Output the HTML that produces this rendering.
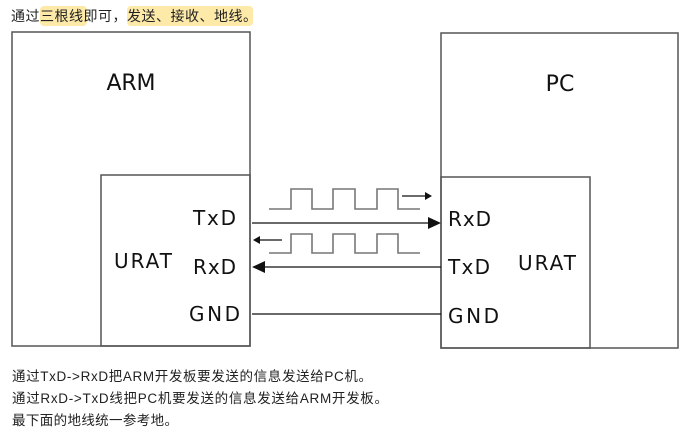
<!DOCTYPE html>
<html><head><meta charset="utf-8"><style>
html,body{margin:0;padding:0;background:#fff;width:693px;height:435px;overflow:hidden}
svg{display:block}
.cj{font-family:"Liberation Sans","Microsoft YaHei","Noto Sans CJK SC",sans-serif}
.lb{font-family:"DejaVu Sans","Liberation Sans",sans-serif;fill:#111}
</style></head><body>
<svg width="693" height="435" viewBox="0 0 693 435" xmlns="http://www.w3.org/2000/svg">
<rect x="40" y="6" width="47" height="20" rx="4" fill="#fde9a8"/>
<rect x="127" y="6" width="126" height="20" rx="4" fill="#fde9a8"/>
<text class="cj" x="11" y="21" font-size="14" fill="#222" textLength="246">通过三根线即可，发送、接收、地线。</text>

<g fill="none" stroke="#555" stroke-width="1.5">
<rect x="12" y="32" width="238" height="314"/>
<rect x="101" y="175" width="149" height="171"/>
<rect x="441" y="33" width="237" height="315"/>
<rect x="441" y="177" width="149" height="171"/>
</g>
<g class="lb" font-size="22">
<text x="131" y="90" text-anchor="middle" textLength="49">ARM</text>
<text x="560" y="91" text-anchor="middle">PC</text>
</g>
<g class="lb" font-size="20">
<text x="236" y="225" text-anchor="end" textLength="43">TxD</text>
<text x="143" y="268" text-anchor="middle" textLength="58">URAT</text>
<text x="236" y="274" text-anchor="end" textLength="43">RxD</text>
<text x="240" y="321" text-anchor="end" textLength="51">GND</text>
<text x="448" y="226" textLength="43">RxD</text>
<text x="448" y="274" textLength="42">TxD</text>
<text x="547" y="270" text-anchor="middle" textLength="58">URAT</text>
<text x="448" y="323" textLength="51">GND</text>
</g>
<g fill="none" stroke="#777" stroke-width="1.6">
<polyline points="269,209 291,209 291,189 312,189 312,209 333,209 333,189 355,189 355,209 377,209 377,189 398,189 398,209 420,209"/>
<polyline points="269,253 291,253 291,234 312,234 312,253 333,253 333,234 355,234 355,253 377,253 377,234 398,234 398,253 420,253"/>
</g>
<g stroke="#111" stroke-width="1.3" fill="none">
<line x1="402" y1="196" x2="428" y2="196"/>
<line x1="258" y1="240" x2="282" y2="240"/>
<line x1="252" y1="223" x2="430" y2="223"/>
<line x1="262" y1="267" x2="441" y2="267"/>
<line x1="252" y1="314" x2="441" y2="314"/>
</g>
<g fill="#111">
<polygon points="432,196 425,192 425,200"/>
<polygon points="253,240 260,236 260,244"/>
<polygon points="441,223 428,217 428,229"/>
<polygon points="252,267 265,261 265,273"/>
</g>
<g class="cj" font-size="13.5" fill="#222">
<text x="12" y="381" textLength="360">通过TxD-&gt;RxD把ARM开发板要发送的信息发送给PC机。</text>
<text x="12" y="403" textLength="376">通过RxD-&gt;TxD线把PC机要发送的信息发送给ARM开发板。</text>
<text x="12" y="425" textLength="166">最下面的地线统一参考地。</text>
</g>
</svg>
</body></html>
